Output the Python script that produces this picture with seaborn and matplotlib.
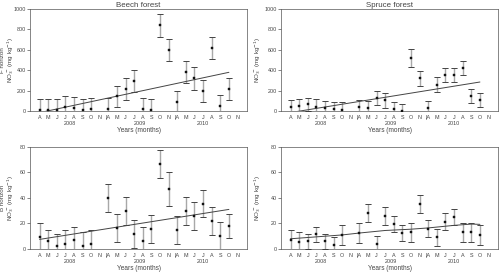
import numpy as np
import pandas as pd
import matplotlib
matplotlib.use('Agg')
import matplotlib.pyplot as plt
import seaborn as sns

nan = np.nan
months = ['A', 'M', 'J', 'J', 'A', 'S', 'O', 'N',
          '|A', 'M', 'J', 'J', 'A', 'S', 'O', 'N',
          '|A', 'M', 'J', 'J', 'A', 'S', 'O', 'N']
years = ['2008', '2009', '2010']

beech_f = [10, 10, 15, 45, 35, 15, 20, nan, 25, 145, 215, 295, 25, 10, 840, 600,
           90, 385, 320, 195, 620, 50, 215, nan]
beech_f_err = [110, 110, 105, 105, 105, 105, 110, nan, 105, 105, 108, 105, 105, 110, 110, 110,
               110, 110, 110, 110, 110, 110, 110, nan]
spruce_f = [40, 50, 65, 40, 35, 20, 10, nan, 45, 30, 130, 105, 25, 5, 520, 320,
            35, 260, 355, 355, 420, 150, 110, nan]
spruce_f_err = [70, 70, 68, 80, 65, 65, 80, nan, 65, 70, 70, 70, 65, 65, 85, 70,
                65, 70, 65, 65, 70, 70, 70, nan]
beech_b = [9, 6, 2.5, 4, 7, 2.5, 4, nan, 40, 16.5, 30, 12, 6.5, 16, 66.5, 47,
           15, 29.5, 25.5, 35.5, 22, 10.5, 18, nan]
beech_b_err = [11, 8.5, 9.5, 11, 10, 11, 11, nan, 11, 11, 11, 11, 11, 11, 11, 13.5,
               11, 11, 11, 10.5, 11, 11, 9.5, nan]
spruce_b = [7, 5.5, 6, 11.5, 6, 3, 11, nan, 12.5, 28, 4, 26, 19.5, 12.5, 13, 35,
            16, 9, 21.5, 25, 13, 13, 11, nan]
spruce_b_err = [7.5, 7.5, 6, 6, 6, 6, 7.5, nan, 7.5, 7, 6.5, 7, 6, 6.5, 7.5, 7,
                7, 6.5, 6.5, 6, 7.5, 7.5, 7.5, nan]

# trend lines (x positions, values)
beech_f_trend = ([0, 22], [-15, 380])
spruce_f_trend = ([0, 22], [-14, 285])
beech_b_trend = ([0, 22], [7.5, 31])
spruce_b_trend = ([0, 2, 4, 6, 8, 11, 14, 16, 19, 21, 22],
                  [8, 9, 10, 11, 12.5, 14.5, 15.5, 16.5, 18.5, 19.5, 19.3])

sns.set_style('ticks')
plt.rcParams['font.family'] = ['Liberation Sans', 'DejaVu Sans']
fs = 3.9
tc = '#444444'

fig = plt.figure(figsize=(5.02, 2.73), dpi=100)

panels = [
    ([0.060, 0.593, 0.432, 0.374], beech_f, beech_f_err, beech_f_trend, (0, 1000), 200,
     'F horizon\nNO$_3^-$ (mg kg$^{-1}$)', 'Beech forest'),
    ([0.560, 0.593, 0.432, 0.374], spruce_f, spruce_f_err, spruce_f_trend, (0, 1000), 200,
     'NO$_3^-$ (mg kg$^{-1}$)', 'Spruce forest'),
    ([0.060, 0.088, 0.432, 0.374], beech_b, beech_b_err, beech_b_trend, (0, 80), 20,
     'B horizon\nNO$_3^-$ (mg kg$^{-1}$)', None),
    ([0.560, 0.088, 0.432, 0.374], spruce_b, spruce_b_err, spruce_b_trend, (0, 80), 20,
     'NO$_3^-$ (mg kg$^{-1}$)', None),
]

for rect, vals, errs, trend, ylim, step, ylab, title in panels:
    ax = fig.add_axes(rect)
    df = pd.DataFrame({'pos': np.arange(len(vals)), 'val': vals, 'err': errs}).dropna()
    ax.errorbar(df['pos'], df['val'], yerr=df['err'], fmt='none', ecolor='#a8a8a8',
                elinewidth=1.0, capsize=2, capthick=0.6, zorder=2)
    ax.errorbar(df['pos'], df['val'], yerr=df['err'], fmt='none', ecolor='#333333',
                elinewidth=0, capsize=2, capthick=0.6, zorder=3)
    sns.lineplot(x=trend[0], y=trend[1], ax=ax, color='#444444', linewidth=0.7, zorder=4)
    sns.scatterplot(data=df, x='pos', y='val', ax=ax, marker='s', s=3.5, color='#111111',
                    edgecolor='#111111', linewidth=0.3, zorder=5)
    ax.set_xlim(-1.1, 24.1)
    ax.set_ylim(*ylim)
    ax.set_yticks(np.arange(ylim[0], ylim[1] + 1, step))
    ax.set_xticks(range(24))
    ax.set_xticklabels(months)
    ax.tick_params(axis='x', length=0, labelsize=fs, pad=3, colors='#555555')
    ax.tick_params(axis='y', length=2, width=0.5, labelsize=fs, pad=1, colors='#555555')
    for lab in ax.get_xticklabels() + ax.get_yticklabels():
        lab.set_color(tc)
    for sp in ax.spines.values():
        sp.set_visible(True)
        sp.set_linewidth(0.5)
        sp.set_color('#555555')
    for yr, xp in zip(years, [3.5, 11.7, 19.0]):
        ax.text(xp, -0.095, yr, transform=ax.get_xaxis_transform(), ha='center',
                va='top', fontsize=fs, color=tc)
    ax.set_xlabel('Years (months)', fontsize=fs + 0.8, labelpad=5, color=tc)
    ax.set_ylabel(ylab, fontsize=fs + 0.6, color=tc, linespacing=1.0)
    if '\n' in ylab:
        ax.yaxis.set_label_coords(-0.064, 0.5)
    else:
        ax.yaxis.set_label_coords(-0.085, 0.5)
    if title:
        ax.set_title(title, fontsize=fs + 1.8, pad=1.5, color=tc)

fig.savefig('out.png', dpi=100)
